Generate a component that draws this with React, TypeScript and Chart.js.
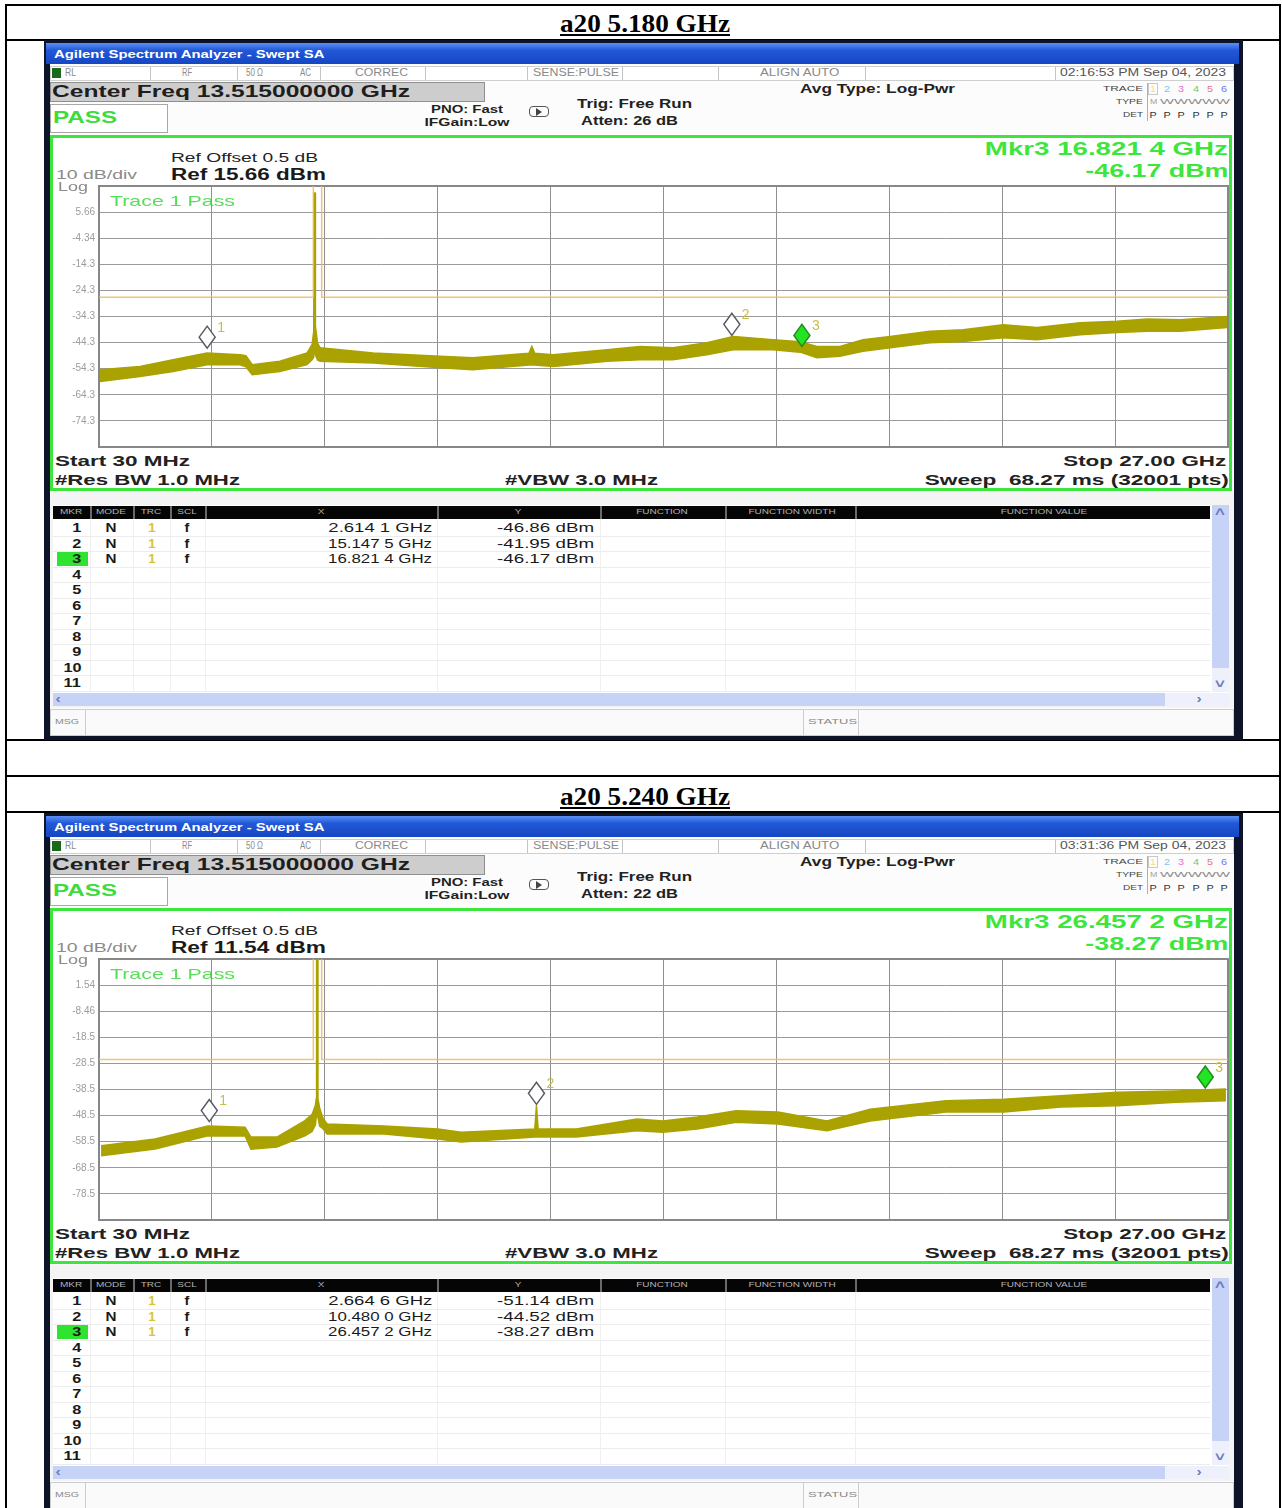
import React, { useEffect, useRef } from "react";
import { Chart, registerables } from "chart.js";
Chart.register(...registerables);

// ---------------- data ----------------
const spanStartGHz = 0.03;
const spanStopGHz = 27.0;

const titles = ["a20 5.180 GHz", "a20 5.240 GHz"];
const timestamps = ["02:16:53 PM Sep 04, 2023", "03:31:36 PM Sep 04, 2023"];
const attens = ["26 dB", "22 dB"];
const refLevels = [15.66, 11.54];

const yTickLabels1 = ["", "5.66", "-4.34", "-14.3", "-24.3", "-34.3", "-44.3", "-54.3", "-64.3", "-74.3", ""];
const yTickLabels2 = ["", "1.54", "-8.46", "-18.5", "-28.5", "-38.5", "-48.5", "-58.5", "-68.5", "-78.5", ""];

// trace 1 (5.180 GHz) – upper / lower envelope of the noisy trace, dBm
const freqs1 = [0.05, 1.01, 1.8, 2.61, 3.4, 3.54, 3.69, 4.35, 5.0, 5.12, 5.16, 5.168, 5.192, 5.2, 5.25, 5.31, 6.58, 8.18, 8.96, 10.3, 10.37, 10.44, 10.88, 12.17, 12.95, 13.74, 14.55, 15.18, 16.13, 16.78, 17.18, 17.73, 18.28, 18.93, 19.88, 20.67, 21.63, 22.44, 23.47, 24.35, 25.07, 25.86, 26.98];
const upper1 = [-54.7, -53.5, -50.9, -48.3, -49.0, -49.4, -52.8, -51.5, -48.3, -45.1, -40, 13, 13, -38, -44.5, -46.3, -48.3, -49.6, -50.1, -48.4, -45.8, -48.4, -49.0, -47.1, -45.8, -46.3, -44.4, -42.0, -43.2, -44.0, -45.8, -45.8, -43.2, -42.0, -40.0, -39.4, -37.5, -38.6, -36.7, -36.2, -35.3, -35.6, -34.3];
const lower1 = [-59.2, -57.3, -55.4, -52.8, -52.8, -53.6, -56.6, -55.4, -52.8, -50.9, -50, -45, -45, -49, -51, -51.5, -52.2, -54.0, -54.7, -52.9, -52.8, -52.9, -53.5, -51.5, -50.9, -50.9, -49.0, -47.1, -47.1, -48.0, -50.1, -49.6, -47.7, -46.3, -44.4, -43.9, -42.5, -43.2, -41.3, -40.5, -40.0, -40.0, -38.6];
const markerFreqs1 = [2.6141, 15.1475, 16.8214];
const markerVals1 = [-46.86, -41.95, -46.17];

// trace 2 (5.240 GHz)
const freqs2 = [0.08, 1.37, 2.63, 3.52, 3.66, 4.28, 4.95, 5.12, 5.2, 5.22, 5.228, 5.252, 5.26, 5.3, 5.38, 5.48, 6.84, 8.13, 8.68, 10.44, 10.48, 10.52, 11.43, 12.88, 13.5, 14.32, 15.25, 16.25, 17.42, 18.45, 20.26, 21.65, 23.01, 24.37, 25.76, 26.95];
const upper2 = [-60.0, -57.4, -52.4, -52.9, -56.7, -56.7, -50.4, -48.0, -44.5, -42, 14, 14, -42, -45.5, -49.5, -51.7, -52.4, -53.6, -54.8, -53.6, -44.5, -53.6, -53.6, -49.8, -50.5, -49.0, -46.6, -47.1, -50.5, -46.0, -42.8, -42.2, -40.9, -39.5, -39.0, -38.3];
const lower2 = [-63.8, -61.3, -56.2, -56.3, -61.3, -60.5, -56.2, -54.5, -52, -49, -45, -45, -49, -52.5, -53.5, -55.5, -55.5, -57.4, -58.6, -56.7, -56.7, -56.7, -56.7, -54.3, -54.8, -53.6, -51.0, -51.7, -54.3, -50.5, -47.1, -47.1, -45.2, -44.7, -43.3, -42.8];
const markerFreqs2 = [2.6646, 10.48, 26.4572];
const markerVals2 = [-51.14, -44.52, -38.27];

const activeMarker = 3;

// limit line (dBm), raised inside the 5.15–5.35 GHz band
const limitFreqs = [0.03, 5.15, 5.15, 5.35, 5.35, 27.0];
const limitVals = [-27, -27, 40, 40, -27, -27];

const traceColors = ["#efe28a", "#78c8ee", "#e070d8", "#70c870", "#ee7080", "#6a78ee"];
const tableCols = ["MKR", "MODE", "TRC", "SCL", "X", "Y", "FUNCTION", "FUNCTION WIDTH", "FUNCTION VALUE"];

// ---------------- helpers ----------------
const PAGE_W = 1282;
const SANS = '"Liberation Sans", Arial, sans-serif';
const SERIF = '"Liberation Serif", "Times New Roman", serif';
const TRACE = "#aaa200";
const GREEN = "#3de63d";

let _ctx: CanvasRenderingContext2D | null = null;
function measure(text: string, font: string) {
  if (!_ctx) _ctx = document.createElement("canvas").getContext("2d");
  if (!_ctx) return 0;
  _ctx.font = font;
  return _ctx.measureText(text).width;
}

type TxtProps = {
  x: number; y: number; text: string; size: number; w?: number; bold?: boolean; weight?: number;
  color?: string; align?: "left" | "right" | "center"; family?: string; sx?: number; underline?: boolean;
};
function Txt(p: TxtProps) {
  const fam = p.family || SANS;
  const wt = p.weight ?? (p.bold ? 700 : 400);
  let sx = p.sx ?? 1.3;
  if (p.w) {
    const nat = measure(p.text, `${wt} ${p.size}px ${fam}`);
    if (nat > 0) sx = p.w / nat;
  }
  const lh = Math.round(p.size * 1.2);
  const style: React.CSSProperties = {
    position: "absolute", top: p.y - lh / 2, fontSize: p.size, lineHeight: lh + "px", fontFamily: fam,
    fontWeight: wt, color: p.color || "#222", whiteSpace: "pre",
    textDecoration: p.underline ? "underline" : "none",
  };
  if (p.align === "right") {
    style.right = PAGE_W - p.x; style.transform = `scaleX(${sx})`; style.transformOrigin = "right center";
  } else if (p.align === "center") {
    style.left = p.x; style.transform = `translateX(-50%) scaleX(${sx})`; style.transformOrigin = "center center";
  } else {
    style.left = p.x; style.transform = `scaleX(${sx})`; style.transformOrigin = "left center";
  }
  return <div style={style}>{p.text}</div>;
}

function Box(p: { x: number; y: number; w: number; h: number; bg?: string; border?: string; style?: React.CSSProperties; children?: any }) {
  return (
    <div style={{ position: "absolute", left: p.x, top: p.y, width: p.w, height: p.h, background: p.bg, border: p.border, boxSizing: "border-box", ...(p.style || {}) }}>
      {p.children}
    </div>
  );
}

const fmtGHz = (f: number) => {
  const s = f.toFixed(4);
  return s.slice(0, -1) + " " + s.slice(-1) + " GHz";
};
const fmtDbm = (v: number) => v.toFixed(2) + " dBm";

// ---------------- chart ----------------
type PlotProps = {
  top: number; freqs: number[]; upper: number[]; lower: number[]; refLevel: number; tickLabels: string[];
  mFreqs: number[]; mVals: number[];
};
function SpectrumPlot(p: PlotProps) {
  const ref = useRef<HTMLCanvasElement>(null);
  useEffect(() => {
    if (!ref.current) return;
    const yMax = p.refLevel;
    const yMin = p.refLevel - 100;
    const xGrid = Array.from({ length: 11 }, (_, i) => spanStartGHz + (i * (spanStopGHz - spanStartGHz)) / 10);
    const yGrid = Array.from({ length: 11 }, (_, i) => yMin + i * 10);
    const upperPts = p.freqs.map((f, i) => ({ x: f, y: p.upper[i] }));
    const lowerPts = p.freqs.map((f, i) => ({ x: f, y: p.lower[i] }));
    const limitPts = limitFreqs.map((f, i) => ({ x: f, y: limitVals[i] }));

    const framePlugin = {
      id: "frame",
      beforeDatasetsDraw(chart: any) {
        const { ctx, chartArea: a } = chart;
        ctx.save();
        ctx.strokeStyle = "#878787";
        ctx.lineWidth = 2;
        ctx.strokeRect(a.left, a.top, a.right - a.left, a.bottom - a.top);
        ctx.restore();
      },
    };
    const markerPlugin = {
      id: "markers",
      afterDatasetsDraw(chart: any) {
        const { ctx } = chart;
        const xs = chart.scales.x;
        const ys = chart.scales.y;
        ctx.save();
        p.mFreqs.forEach((f, i) => {
          const x = xs.getPixelForValue(f);
          const y = ys.getPixelForValue(p.mVals[i]);
          const hw = 8, hh = 11;
          const by = y - 1;
          const cy = by - hh;
          ctx.beginPath();
          ctx.moveTo(x, by);
          ctx.lineTo(x + hw, cy);
          ctx.lineTo(x, cy - hh);
          ctx.lineTo(x - hw, cy);
          ctx.closePath();
          const act = i + 1 === activeMarker;
          ctx.fillStyle = act ? "#22e422" : "rgba(255,255,255,0.92)";
          ctx.fill();
          ctx.lineWidth = 1.5;
          ctx.strokeStyle = act ? "#1f8f1f" : "#5a5a66";
          ctx.stroke();
          ctx.fillStyle = "#c9bd4a";
          ctx.font = `14px ${SANS}`;
          ctx.textBaseline = "middle";
          ctx.fillText(String(i + 1), x + 10, cy - hh + 2);
        });
        ctx.restore();
      },
    };

    const chart = new Chart(ref.current, {
      type: "line",
      data: {
        datasets: [
          { data: limitPts, borderColor: "rgba(236,186,92,0.85)", borderWidth: 1.5, pointRadius: 0, fill: false },
          { data: upperPts, borderColor: TRACE, borderWidth: 1.5, pointRadius: 0, fill: false },
          { data: lowerPts, borderColor: TRACE, borderWidth: 1.5, pointRadius: 0, fill: "-1", backgroundColor: TRACE },
        ],
      },
      options: {
        animation: false,
        responsive: false,
        maintainAspectRatio: false,
        layout: { padding: { top: 4, bottom: 4, left: 0, right: 4 } },
        plugins: { legend: { display: false }, tooltip: { enabled: false } },
        elements: { line: { tension: 0 } },
        scales: {
          x: {
            type: "linear", min: spanStartGHz, max: spanStopGHz,
            grid: { color: "#8f8f8f", lineWidth: 1, drawTicks: false },
            border: { display: false },
            ticks: { display: false },
            afterBuildTicks: (s: any) => { s.ticks = xGrid.map((v) => ({ value: v })); },
            afterFit: (s: any) => { s.height = 0; s.paddingLeft = 0; s.paddingRight = 0; },
          },
          y: {
            type: "linear", min: yMin, max: yMax,
            grid: { color: "#9a9a9a", lineWidth: 1, drawTicks: false },
            border: { display: false },
            ticks: {
              autoSkip: false, padding: 4, color: "#9c9c9c", font: { size: 10, family: SANS },
              callback: (v: any) => p.tickLabels[Math.round((p.refLevel - Number(v)) / 10)] ?? "",
            },
            afterBuildTicks: (s: any) => { s.ticks = yGrid.map((v) => ({ value: v })); },
            afterFit: (s: any) => { s.width = 41; s.paddingTop = 0; s.paddingBottom = 0; },
          },
        },
      } as any,
      plugins: [framePlugin, markerPlugin],
    });
    return () => chart.destroy();
  }, []);
  return (
    <canvas ref={ref} width={1174} height={269}
      style={{ position: "absolute", left: 58, top: p.top, width: 1174, height: 269 }} />
  );
}

// ---------------- analyzer screen ----------------
type ScreenProps = {
  dy: number; timestamp: string; atten: string; refLevel: number; tickLabels: string[];
  freqs: number[]; upper: number[]; lower: number[]; mFreqs: number[]; mVals: number[];
};
function Screen(s: ScreenProps) {
  const Y = (y: number) => y + s.dy;
  const am = activeMarker - 1;
  const statusItems: [string, number, number][] = [
    ["RL", 65, 11], ["RF", 182, 10], ["50 Ω", 246, 17], ["AC", 300, 11], ["CORREC", 355, 53],
    ["SENSE:PULSE", 533, 86], ["ALIGN AUTO", 760, 80],
  ];
  const statusSeps = [150, 237, 320, 425, 527, 622, 718, 865, 1055];
  const colSeps = [90, 133, 170, 205, 437, 600, 725, 855];
  const colCenters = [71, 111, 151, 187, 321, 518, 662, 792, 1044];
  const rows = Array.from({ length: 11 }, (_, i) => i);
  return (
    <>
      {/* window frame */}
      <Box x={44} y={Y(40)} w={1199} h={700} bg="#0e1428" />
      <Box x={46} y={Y(43)} w={1193} h={21} bg="linear-gradient(#5a90f6, #2158d8 35%, #1646c2)" />
      <Txt x={54} y={Y(54)} text="Agilent Spectrum Analyzer - Swept SA" size={11} weight={600} color="#fff" w={271} />
      <Box x={50} y={Y(64)} w={1184} h={672} bg="#fcfcfc" />

      {/* status row */}
      <Box x={50} y={Y(66)} w={1184} h={15} bg="#fff" border="1px solid #cfcfcf" />
      {statusSeps.map((x, i) => <Box key={i} x={x} y={Y(67)} w={1} h={13} bg="#c4c4c4" />)}
      <Box x={52} y={Y(68)} w={9} h={10} bg="#1a6a1a" />
      {statusItems.map(([t, x, w], i) => <Txt key={i} x={x} y={Y(73)} text={t} size={10} w={w} color="#8a8a8a" />)}
      <Txt x={1226} y={Y(73)} text={s.timestamp} size={10} w={166} color="#555" align="right" />

      {/* center freq & pass */}
      <Box x={50} y={Y(82)} w={435} h={20} bg="#cdcdcd" border="1px solid #8f8f8f" />
      <Txt x={52} y={Y(92)} text="Center Freq 13.515000000 GHz" size={17} bold w={358} color="#1e1e1e" />
      <Box x={50} y={Y(104)} w={118} h={29} bg="#fff" border="1px solid #a8a8a8" />
      <Txt x={53} y={Y(118)} text="PASS" size={17} bold w={64} color="#3ddc3d" />
      <Txt x={467} y={Y(110)} text="PNO: Fast" size={10} bold w={72} align="center" />
      <Txt x={467} y={Y(123)} text="IFGain:Low" size={10} bold w={85} align="center" />
      <Box x={529} y={Y(106)} w={20} h={11} border="1.5px solid #555" style={{ borderRadius: 4 }} />
      <Box x={536} y={Y(108)} w={0} h={0} style={{ borderLeft: "6px solid #444", borderTop: "4px solid transparent", borderBottom: "4px solid transparent" }} />
      <Txt x={577} y={Y(104)} text="Trig: Free Run" size={12} bold w={115} />
      <Txt x={581} y={Y(121)} text={`Atten: ${s.atten}`} size={12} bold w={97} />
      <Txt x={800} y={Y(89)} text="Avg Type: Log-Pwr" size={12} bold w={155} />

      {/* trace info block */}
      <Txt x={1143} y={Y(89)} text="TRACE" size={8} w={40} color="#444" align="right" />
      <Txt x={1143} y={Y(102)} text="TYPE" size={8} w={27} color="#444" align="right" />
      <Txt x={1143} y={Y(115)} text="DET" size={8} w={20} color="#444" align="right" />
      <Box x={1147} y={Y(83)} w={1} h={38} bg="#b0b0b0" />
      <Box x={1148} y={Y(83)} w={10} h={12} border="1px solid #c8c8c8" />
      {traceColors.map((c, i) => <Txt key={i} x={1153 + i * 14.2} y={Y(89)} text={String(i + 1)} size={9} color={c} align="center" sx={1.2} />)}
      <Txt x={1150} y={Y(102)} text="M" size={8} color="#a0a0a0" sx={1.1} />
      <Txt x={1160} y={Y(102)} text="WWWWW" size={7} w={70} color="#8a8a8a" />
      {traceColors.map((_, i) => <Txt key={i} x={1153 + i * 14.2} y={Y(115)} text="P" size={9} color="#333" align="center" sx={1.2} />)}

      {/* green measurement panel */}
      <Box x={50} y={Y(135)} w={1182} h={356} bg="#fff" border={`3px solid ${GREEN}`} />
      <Txt x={171} y={Y(158)} text="Ref Offset 0.5 dB" size={12} weight={500} w={147} color="#222" />
      <Txt x={171} y={Y(174)} text={`Ref ${s.refLevel.toFixed(2)} dBm`} size={16} bold w={155} color="#1a1a1a" />
      <Txt x={56} y={Y(175)} text="10 dB/div" size={12} w={81} color="#8a8a8a" />
      <Txt x={1228} y={Y(148)} text={`Mkr${activeMarker} ${fmtGHz(s.mFreqs[am])}`} size={19} bold w={243} color={GREEN} align="right" />
      <Txt x={1228} y={Y(170)} text={fmtDbm(s.mVals[am])} size={19} bold w={143} color={GREEN} align="right" />

      <SpectrumPlot top={Y(182)} freqs={s.freqs} upper={s.upper} lower={s.lower} refLevel={s.refLevel}
        tickLabels={s.tickLabels} mFreqs={s.mFreqs} mVals={s.mVals} />
      <Txt x={58} y={Y(187)} text="Log" size={12} w={30} color="#8a8a8a" />
      <Txt x={110} y={Y(201)} text="Trace 1 Pass" size={15} w={125} color="rgba(60,214,60,0.85)" />

      <Txt x={55} y={Y(461)} text="Start 30 MHz" size={15} bold w={135} />
      <Txt x={55} y={Y(480)} text="#Res BW 1.0 MHz" size={15} bold w={185} />
      <Txt x={505} y={Y(480)} text="#VBW 3.0 MHz" size={15} bold w={153} />
      <Txt x={1226} y={Y(461)} text="Stop 27.00 GHz" size={15} bold w={163} align="right" />
      <Txt x={1229} y={Y(480)} text="Sweep  68.27 ms (32001 pts)" size={15} bold w={304} align="right" />

      {/* marker table */}
      <Box x={50} y={Y(492)} w={1184} h={216} bg="#f4f4f4" />
      <Box x={53} y={Y(505)} w={1176} h={188} bg="#fff" />
      <Box x={53} y={Y(506)} w={1157} h={13} bg="#050505" />
      {colSeps.map((x, i) => <Box key={"h" + i} x={x} y={Y(506)} w={2} h={13} bg="#6a6a6a" />)}
      {tableCols.map((t, i) => <Txt key={"c" + i} x={colCenters[i]} y={Y(512)} text={t} size={8} color="#b4b4b4" align="center" sx={1.25} />)}
      {rows.map((i) => <Box key={"r" + i} x={53} y={Y(535.5 + 15.5 * i)} w={1157} h={1} bg="#ececec" />)}
      {colSeps.map((x, i) => <Box key={"v" + i} x={x} y={Y(519)} w={1} h={172} bg="#f0f0f0" />)}
      <Box x={57} y={Y(552)} w={31} h={14} bg="#2fe42f" />
      {rows.map((i) => <Txt key={"n" + i} x={81} y={Y(528 + 15.5 * i)} text={String(i + 1)} size={13} bold align="right" sx={1.25} color="#1a1a1a" />)}
      {s.mFreqs.map((f, i) => (
        <React.Fragment key={"m" + i}>
          <Txt x={111} y={Y(528 + 15.5 * i)} text="N" size={12} bold w={11} align="center" color="#1a1a1a" />
          <Txt x={152} y={Y(528 + 15.5 * i)} text="1" size={12} bold align="center" color="#d6c634" sx={1.1} />
          <Txt x={187} y={Y(528 + 15.5 * i)} text="f" size={12} bold align="center" color="#1a1a1a" sx={1.2} />
          <Txt x={432} y={Y(528 + 15.5 * i)} text={fmtGHz(f)} size={12} weight={500} w={104} align="right" color="#1a1a1a" />
          <Txt x={594} y={Y(528 + 15.5 * i)} text={fmtDbm(s.mVals[i])} size={12} weight={500} w={97} align="right" color="#1a1a1a" />
        </React.Fragment>
      ))}
      {/* scrollbars */}
      <Box x={1212} y={Y(505)} w={17} h={163} bg="#c6d3f6" />
      <Box x={1212} y={Y(668)} w={17} h={24} bg="#eef1fb" />
      <Txt x={1220} y={Y(512)} text="˄" size={12} bold align="center" color="#6a7cc0" sx={1.4} />
      <Txt x={1220} y={Y(684)} text="˅" size={12} bold align="center" color="#6a7cc0" sx={1.4} />
      <Box x={53} y={Y(693)} w={1112} h={13} bg="#c6d3f6" />
      <Box x={1165} y={Y(693)} w={64} h={13} bg="#eef1fb" />
      <Txt x={58} y={Y(699)} text="‹" size={12} bold align="center" color="#6a7cc0" sx={1.3} />
      <Txt x={1199} y={Y(699)} text="›" size={12} bold align="center" color="#6a7cc0" sx={1.3} />

      {/* message bar */}
      <Box x={50} y={Y(709)} w={1184} h={27} bg="#fafafa" border="1px solid #cdcdcd" />
      <Box x={85} y={Y(710)} w={1} h={25} bg="#cdcdcd" />
      <Box x={803} y={Y(710)} w={1} h={25} bg="#cdcdcd" />
      <Box x={858} y={Y(710)} w={1} h={25} bg="#cdcdcd" />
      <Txt x={55} y={Y(722)} text="MSG" size={8} w={24} color="#888" />
      <Txt x={808} y={Y(722)} text="STATUS" size={8} w={49} color="#888" />
    </>
  );
}

export default function App() {
  const hLines = [5, 40, 740, 776, 812];
  return (
    <div style={{ position: "absolute", left: 0, top: 0, width: PAGE_W, height: 1508, overflow: "hidden", background: "#fff" }}>
      {hLines.map((y, i) => <Box key={i} x={6} y={y - 1} w={1275} h={2} bg="#000" />)}
      <Box x={5} y={4} w={2} h={1504} bg="#000" />
      <Box x={1279} y={4} w={2} h={1504} bg="#000" />
      <Txt x={645} y={23} text={titles[0]} size={26} bold family={SERIF} w={170} align="center" underline color="#000" />
      <Txt x={645} y={796} text={titles[1]} size={26} bold family={SERIF} w={170} align="center" underline color="#000" />
      <Screen dy={0} timestamp={timestamps[0]} atten={attens[0]} refLevel={refLevels[0]} tickLabels={yTickLabels1}
        freqs={freqs1} upper={upper1} lower={lower1} mFreqs={markerFreqs1} mVals={markerVals1} />
      <Screen dy={773} timestamp={timestamps[1]} atten={attens[1]} refLevel={refLevels[1]} tickLabels={yTickLabels2}
        freqs={freqs2} upper={upper2} lower={lower2} mFreqs={markerFreqs2} mVals={markerVals2} />
    </div>
  );
}
